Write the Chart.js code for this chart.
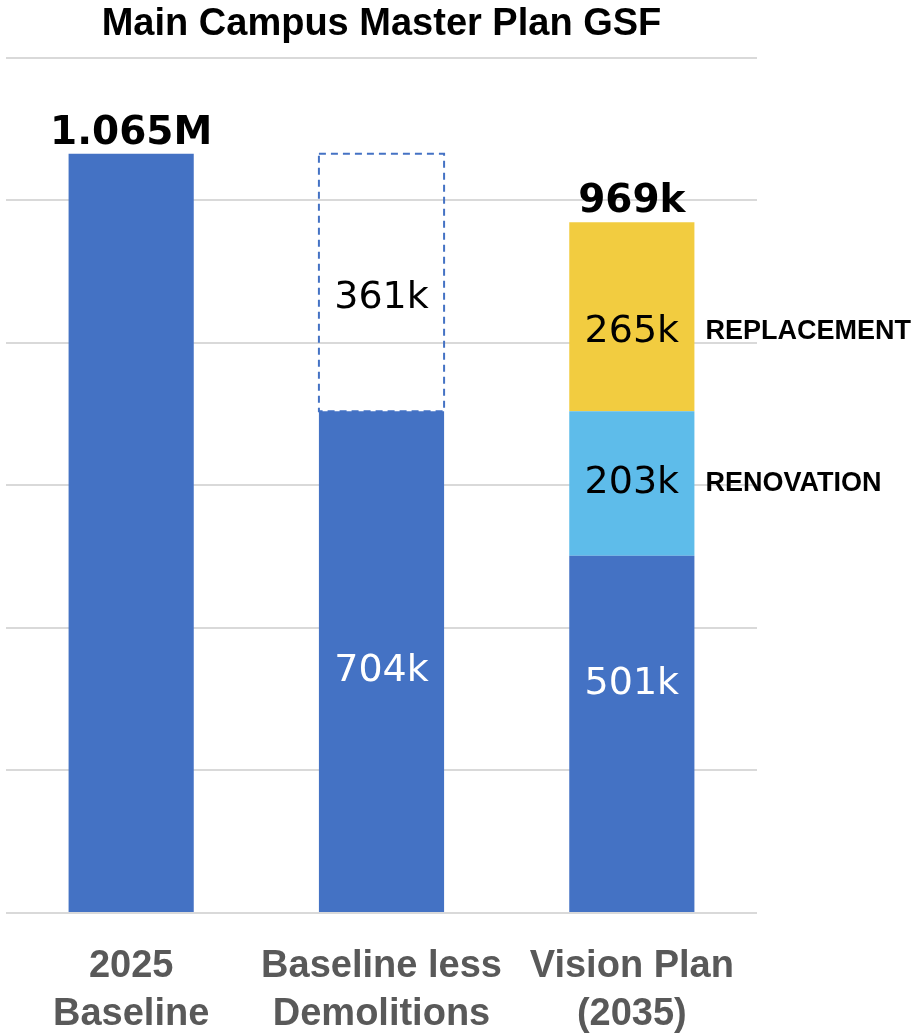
<!DOCTYPE html>
<html lang="en">
<head>
<meta charset="UTF-8">
<title>Main Campus Master Plan GSF</title>
<script src="https://cdn.jsdelivr.net/npm/chart.js"></script>
<style>
    html, body { margin: 0; padding: 0; background: #fff; }
    #wrap { width: 912px; height: 1034px; position: relative; }
</style>
</head>
<body>
<div id="wrap"><canvas id="gsfChart"></canvas></div>
<script>
    // values in thousands of GSF
    const categories = [['2025', 'Baseline'], ['Baseline less', 'Demolitions'], ['Vision Plan', '(2035)']];
    const existing = [1065, 704, 501];
    const renovation = [0, 0, 203];
    const replacement = [0, 0, 265];
    const demolished = [0, 361, 0];
    const showTotal = [true, false, true];
    const yTicks = [0, 200, 400, 600, 800, 1000, 1200];

    const BLUE = '#4472C4';

    function fmt(v) {
        return v >= 1000 ? (v / 1000).toFixed(3) + 'M' : v + 'k';
    }

    // where the value label sits inside a segment (fraction of its height from the bottom)
    const labelFrac = { '0-2': 0.64, '0-1': 0.48, '3-1': 0.44, '2-2': 0.42 };
    const sideLabels = { 1: 'RENOVATION', 2: 'REPLACEMENT' };

    const labelPlugin = {
        id: 'gsfLabels',
        afterDatasetsDraw(chart) {
            const ctx = chart.ctx;
            ctx.save();

            // dashed outline for demolished space
            const dm = chart.getDatasetMeta(3);
            dm.data.forEach((bar, i) => {
                if (!demolished[i]) return;
                const w = bar.width;
                ctx.setLineDash([7, 5]);
                ctx.lineWidth = 2;
                ctx.strokeStyle = BLUE;
                ctx.strokeRect(bar.x - w / 2, bar.y, w, bar.base - bar.y);
            });
            ctx.setLineDash([]);

            ctx.textAlign = 'center';
            ctx.textBaseline = 'middle';
            chart.data.datasets.forEach((ds, di) => {
                const meta = chart.getDatasetMeta(di);
                meta.data.forEach((bar, i) => {
                    const v = ds.data[i];
                    if (!v || showTotal[i] && di === 0 && i === 0) return;
                    const f = labelFrac[di + '-' + i] ?? 0.5;
                    const y = bar.base - (bar.base - bar.y) * f;
                    ctx.font = '38px "DejaVu Sans"';
                    ctx.fillStyle = ds.labelColor;
                    ctx.fillText(fmt(v), bar.x, y);
                    if (sideLabels[di] && i === 2) {
                        ctx.textAlign = 'left';
                        ctx.font = 'bold 27px "Liberation Sans"';
                        ctx.fillStyle = '#000';
                        ctx.fillText(sideLabels[di], bar.x + bar.width / 2 + 11, y);
                        ctx.textAlign = 'center';
                    }
                });
            });

            // totals above the stacks
            ctx.textBaseline = 'alphabetic';
            ctx.font = 'bold 39px "DejaVu Sans"';
            ctx.fillStyle = '#000';
            const y = chart.scales.y;
            categories.forEach((c, i) => {
                if (!showTotal[i]) return;
                const total = existing[i] + renovation[i] + replacement[i];
                const x = chart.getDatasetMeta(0).data[i].x;
                ctx.fillText(fmt(total), x, y.getPixelForValue(total) - 10);
            });
            ctx.restore();
        }
    };

    new Chart(document.getElementById('gsfChart'), {
        type: 'bar',
        data: {
            labels: categories,
            datasets: [
                { label: 'Existing', data: existing, backgroundColor: BLUE, labelColor: '#fff' },
                { label: 'Renovation', data: renovation, backgroundColor: '#5EBCEA', labelColor: '#000' },
                { label: 'Replacement', data: replacement, backgroundColor: '#F2CC40', labelColor: '#000' },
                { label: 'Demolished', data: demolished, backgroundColor: 'rgba(0,0,0,0)', labelColor: '#000' }
            ]
        },
        options: {
            responsive: true,
            maintainAspectRatio: false,
            animation: false,
            layout: { padding: { left: 6, right: 155, top: 0, bottom: 0 } },
            datasets: { bar: { categoryPercentage: 1, barPercentage: 0.5, borderWidth: 0 } },
            plugins: {
                legend: { display: false },
                tooltip: { enabled: false },
                title: {
                    display: true,
                    text: 'Main Campus Master Plan GSF',
                    color: '#000',
                    font: { family: '"Liberation Sans"', size: 38, weight: 'bold', lineHeight: 1.2 },
                    padding: { top: 2, bottom: 10 }
                }
            },
            scales: {
                x: {
                    stacked: true,
                    grid: { display: false },
                    border: { display: false },
                    afterFit: axis => { axis.height = 121; },
                    ticks: {
                        color: '#595959',
                        padding: 22,
                        maxRotation: 0,
                        autoSkip: false,
                        font: { family: '"Liberation Sans"', size: 38, weight: 'bold', lineHeight: 1.25 }
                    }
                },
                y: {
                    stacked: true,
                    min: 0,
                    max: 1200,
                    afterBuildTicks: axis => { axis.ticks = yTicks.map(v => ({ value: v })); },
                    grid: { color: '#d9d9d9', lineWidth: 2, drawTicks: false },
                    border: { display: false },
                    ticks: { display: false }
                }
            }
        },
        plugins: [labelPlugin]
    });
</script>
</body>
</html>
